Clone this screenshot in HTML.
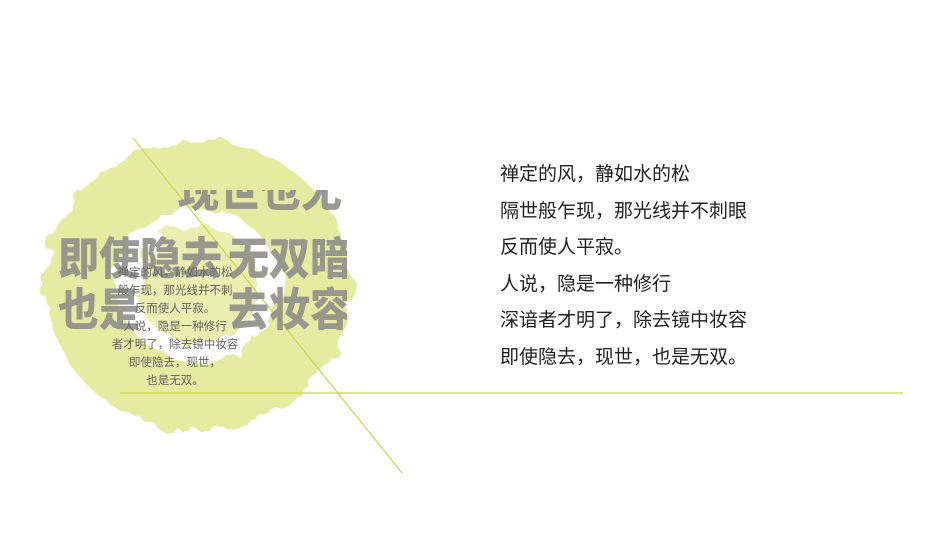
<!DOCTYPE html>
<html><head><meta charset="utf-8"><style>
body{margin:0;width:950px;height:535px;background:#fff;position:relative;overflow:hidden;font-family:"Liberation Sans","Noto Sans CJK SC",sans-serif}
.abs{position:absolute}
.big{font-weight:900;color:#8f8f8a;font-size:41px;line-height:46px;white-space:nowrap;opacity:.9;transform:scaleY(1.1);transform-origin:0 0}
.poem{left:500px;top:157px;font-size:19px;line-height:36.5px;color:#222}
.small{left:100px;top:264px;width:150px;text-align:center;font-size:11.5px;line-height:18px;color:#666;white-space:nowrap;overflow:hidden}
</style></head><body>
<svg class="abs" style="left:0;top:0" width="950" height="535">
<defs><filter id="r" x="-30%" y="-30%" width="160%" height="160%"><feTurbulence type="fractalNoise" baseFrequency="0.04" numOctaves="3" seed="4"/><feDisplacementMap in="SourceGraphic" scale="22"/></filter></defs>
<g filter="url(#r)" fill="none" stroke="#e3eca0">
<ellipse cx="198" cy="285" rx="118" ry="110" stroke-width="70"/>
<circle cx="198" cy="285" r="60" fill="#e8efb0" stroke="none"/>
</g>
<line x1="133" y1="138" x2="402" y2="473" stroke="#c8d84a" stroke-width="1.2"/>
<line x1="120" y1="393" x2="903" y2="393" stroke="#c8d84a" stroke-width="1.2"/>
</svg>
<div class="abs" style="left:58px;top:190px;width:289px;height:145px;overflow:hidden">
<div class="abs big" style="left:120px;top:-24px">现世也无</div>
<div class="abs big" style="left:0;top:44px">即使隐去</div>
<div class="abs big" style="left:170px;top:44px">无双暗</div>
<div class="abs big" style="left:0;top:95px">也是</div>
<div class="abs big" style="left:170px;top:95px">去妆容</div>
</div>
<div class="abs small">禅定的风，静如水的松<br>般乍现，那光线并不刺<br>反而使人平寂。<br>人说，隐是一种修行<br>者才明了，除去镜中妆容<br>即使隐去，现世，<br>也是无双。</div>
<div class="abs poem">禅定的风，静如水的松<br>隔世般乍现，那光线并不刺眼<br>反而使人平寂。<br>人说，隐是一种修行<br>深谙者才明了，除去镜中妆容<br>即使隐去，现世，也是无双。</div>
</body></html>
